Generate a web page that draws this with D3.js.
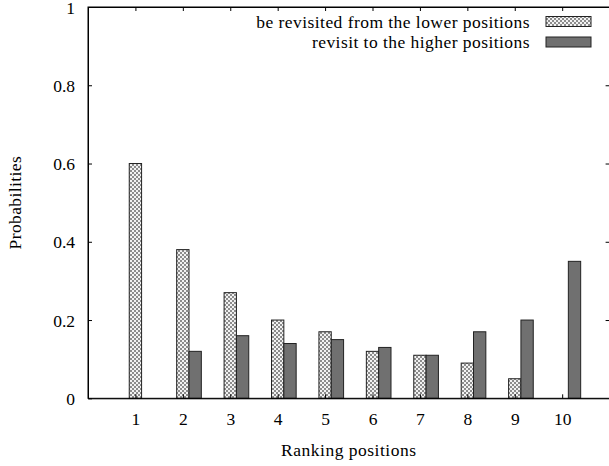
<!DOCTYPE html>
<html>
<head>
  <meta charset="utf-8" />
  <script src="https://d3js.org/d3.v7.min.js"></script>
  <style>
    body { margin: 0; background: #fff; }
  </style>
</head>
<body>
  <svg id="chart" width="609" height="466"></svg>
  <script>
    // data
    var positions = [1, 2, 3, 4, 5, 6, 7, 8, 9, 10];
    var revisitedFromLower = [0.6, 0.38, 0.27, 0.2, 0.17, 0.12, 0.11, 0.09, 0.05, 0];
    var revisitToHigher = [0, 0.12, 0.16, 0.14, 0.15, 0.13, 0.11, 0.17, 0.2, 0.35];
    var yTicks = [0, 0.2, 0.4, 0.6, 0.8, 1];
    var seriesNames = ["be revisited from the lower positions", "revisit to the higher positions"];

    var serif = "'Liberation Serif', 'DejaVu Serif', 'Times New Roman', serif";
    var fontSize = "17.5px";

    var svg = d3.select("#chart");
    var plotLeft = 88, plotRight = 609.6, plotTop = 7, plotBottom = 398.3;

    var x = d3.scaleLinear().domain([0, 11]).range([plotLeft, plotRight]);
    var y = d3.scaleLinear().domain([0, 1]).range([plotBottom, plotTop]);

    // checker fill for the first series
    var defs = svg.append("defs");
    var pat = defs.append("pattern")
      .attr("id", "checker")
      .attr("patternUnits", "userSpaceOnUse")
      .attr("width", 4).attr("height", 4);
    pat.append("rect").attr("width", 4).attr("height", 4).attr("fill", "#f2f2f2");
    pat.append("rect").attr("width", 2).attr("height", 2).attr("fill", "#8c8c8c");
    pat.append("rect").attr("x", 2).attr("y", 2).attr("width", 2).attr("height", 2).attr("fill", "#8c8c8c");

    var bw = x(0.26) - x(0);

    // bars
    svg.append("g").selectAll("rect")
      .data(positions.filter(function (d, i) { return revisitedFromLower[i] > 0; }))
      .enter().append("rect")
      .attr("x", function (d) { return x(d) - bw / 2; })
      .attr("y", function (d) { return y(revisitedFromLower[d - 1]); })
      .attr("width", bw)
      .attr("height", function (d) { return plotBottom - y(revisitedFromLower[d - 1]); })
      .attr("fill", "url(#checker)")
      .attr("stroke", "#222")
      .attr("stroke-width", 1);

    svg.append("g").selectAll("rect")
      .data(positions.filter(function (d, i) { return revisitToHigher[i] > 0; }))
      .enter().append("rect")
      .attr("x", function (d) { return x(d) + bw / 2; })
      .attr("y", function (d) { return y(revisitToHigher[d - 1]); })
      .attr("width", bw)
      .attr("height", function (d) { return plotBottom - y(revisitToHigher[d - 1]); })
      .attr("fill", "#707070")
      .attr("stroke", "#222")
      .attr("stroke-width", 1);

    // axes (ticks inward, mirrored)
    var tl = 4;
    var yAxisL = d3.axisLeft(y).tickValues(yTicks).tickSizeInner(-tl).tickSizeOuter(0).tickPadding(13)
      .tickFormat(function (d) { return d === 0 || d === 1 ? d3.format("d")(d) : d3.format(".1f")(d); });
    var gl = svg.append("g").attr("transform", "translate(" + plotLeft + ",0)").call(yAxisL);
    var yAxisR = d3.axisRight(y).tickValues(yTicks.slice(1, 5)).tickSizeInner(-tl).tickSizeOuter(0).tickFormat("");
    var gr = svg.append("g").attr("transform", "translate(" + plotRight + ",0)").call(yAxisR);
    var xAxisB = d3.axisBottom(x).tickValues(positions).tickSizeInner(-tl).tickSizeOuter(0).tickPadding(14);
    var gb = svg.append("g").attr("transform", "translate(0," + plotBottom + ")").call(xAxisB);
    var xAxisT = d3.axisTop(x).tickValues(positions).tickSizeInner(-tl).tickSizeOuter(0).tickFormat("");
    var gt = svg.append("g").attr("transform", "translate(0," + plotTop + ")").call(xAxisT);

    [gl, gr, gb, gt].forEach(function (g) {
      g.attr("font-family", serif).attr("font-size", fontSize);
      g.selectAll("path").attr("stroke", "#000");
      g.selectAll("line").attr("stroke", "#000");
      g.selectAll("text").attr("fill", "#000");
    });
    gl.selectAll("text").attr("dy", "0.35em");

    // frame
    svg.append("rect")
      .attr("x", plotLeft).attr("y", plotTop)
      .attr("width", plotRight - plotLeft).attr("height", plotBottom - plotTop)
      .attr("fill", "none").attr("stroke", "#000").attr("stroke-width", 1);

    // axis titles
    svg.append("text")
      .attr("transform", "translate(21," + (plotTop + plotBottom) / 2 + ") rotate(-90)")
      .attr("text-anchor", "middle")
      .attr("font-family", serif).attr("font-size", fontSize)
      .attr("letter-spacing", "0.4px")
      .text("Probabilities");
    svg.append("text")
      .attr("x", (plotLeft + plotRight) / 2).attr("y", 456)
      .attr("text-anchor", "middle")
      .attr("font-family", serif).attr("font-size", fontSize)
      .attr("letter-spacing", "0.5px")
      .text("Ranking positions");

    // legend
    var legend = svg.append("g");
    var fills = ["url(#checker)", "#707070"];
    seriesNames.forEach(function (name, i) {
      var ly = 21.5 + i * 20.5;
      legend.append("text")
        .attr("x", 530).attr("y", ly).attr("dy", "0.35em")
        .attr("text-anchor", "end")
        .attr("font-family", serif).attr("font-size", fontSize)
        .attr("letter-spacing", "0.45px")
        .text(name);
      legend.append("rect")
        .attr("x", 546).attr("y", ly - 5)
        .attr("width", 45).attr("height", 10)
        .attr("fill", fills[i]).attr("stroke", "#222").attr("stroke-width", 1);
    });
  </script>
</body>
</html>
